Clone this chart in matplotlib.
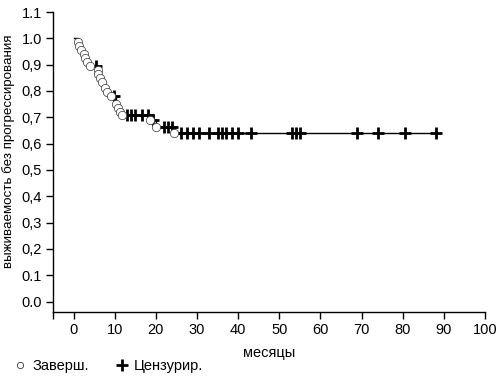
import matplotlib
matplotlib.use("Agg")
import matplotlib.pyplot as plt
from matplotlib.lines import Line2D
import numpy as np

plt.rcParams["font.family"] = ["Liberation Sans Narrow", "Liberation Sans", "DejaVu Sans"]

# --- Data ---
# events (progression) : time in months, survival after the event
event_t = [1.0, 1.4, 1.9, 2.4, 2.8, 3.3, 4.0, 5.8, 6.0, 6.3, 6.8, 7.5, 8.2, 9.0,
           10.3, 10.8, 11.3, 11.8, 18.5, 20.0, 24.5]
event_s = [0.985, 0.97, 0.955, 0.94, 0.925, 0.91, 0.895, 0.88, 0.865, 0.85, 0.835,
           0.81, 0.795, 0.78, 0.75, 0.735, 0.72, 0.71, 0.69, 0.665, 0.64]

# censored observations
cens_t = [5.5, 9.8, 13, 14, 15, 16.5, 18, 19.3, 22, 23, 24,
          26, 27.5, 29, 30.5, 33, 35, 36, 37, 38.5, 40, 43, 53, 54, 55,
          69, 74, 80.5, 88]
cens_s = [0.895, 0.78, 0.71, 0.71, 0.71, 0.71, 0.71, 0.69, 0.665, 0.665, 0.665,
          0.64, 0.64, 0.64, 0.64, 0.64, 0.64, 0.64, 0.64, 0.64, 0.64, 0.64, 0.64, 0.64, 0.64,
          0.64, 0.64, 0.64, 0.64]

x_ticks = [0, 10, 20, 30, 40, 50, 60, 70, 80, 90, 100]
y_ticks = [0.0, 0.1, 0.2, 0.3, 0.4, 0.5, 0.6, 0.7, 0.8, 0.9, 1.0, 1.1]
y_labels = ["0.0", "0.1", "0,2", "0,3", "0,4", "0,5", "0,6", "0,7", "0,8", "0,9", "1.0", "1.1"]

# --- Step line through all observations ---
all_t = np.array([0.0] + event_t + cens_t)
all_s = np.array([1.0] + event_s + cens_s)
order = np.argsort(all_t, kind="stable")
line_t = all_t[order]
line_s = all_s[order]

fig = plt.figure(figsize=(5.01, 3.76), dpi=100, facecolor="white")
ax = fig.add_axes([0.106, 0.170, 0.862, 0.798])

ax.step(line_t, line_s, where="post", color="black", linewidth=1.0, zorder=2)
ax.plot(cens_t, cens_s, linestyle="none", marker="+", markersize=9,
        markeredgewidth=2.0, color="black", zorder=3)
ax.plot(event_t, event_s, linestyle="none", marker="o", markersize=6,
        markerfacecolor="white", markeredgecolor="#333333", markeredgewidth=0.5, zorder=4)

ax.set_xlim(-5, 100)
ax.set_ylim(-0.04, 1.1)
ax.set_xticks([-5] + x_ticks)
ax.set_xticklabels([""] + [str(t) for t in x_ticks])
ax.set_yticks(y_ticks)
ax.set_yticklabels(y_labels)
ax.tick_params(axis="both", direction="out", length=5, width=1, labelsize=10.5,
               colors="black", pad=3)

for side in ["top", "right"]:
    ax.spines[side].set_visible(False)
for side in ["left", "bottom"]:
    ax.spines[side].set_linewidth(1.0)

ax.set_xlabel("месяцы", fontsize=10.5, labelpad=6)
# y label placed by hand so it does not get pushed off the left edge
fig.text(9 / 501, 1 - 151 / 376, "выживаемость без прогрессирования", fontsize=9.6,
         rotation=90, ha="center", va="center")

handles = [
    Line2D([], [], linestyle="none", marker="o", markersize=4.5, markerfacecolor="white",
           markeredgecolor="#333333", markeredgewidth=0.6),
    Line2D([], [], linestyle="none", marker="+", markersize=8, markeredgewidth=2.0,
           color="black"),
]
fig.legend(handles, ["Заверш.", "Цензурир."], loc="lower left",
           bbox_to_anchor=(0.0, -0.028), ncol=2, frameon=False, fontsize=10.5,
           handletextpad=0.3, columnspacing=1.8, handlelength=1.0)

fig.savefig("out.png", dpi=100, facecolor="white")
plt.close(fig)
